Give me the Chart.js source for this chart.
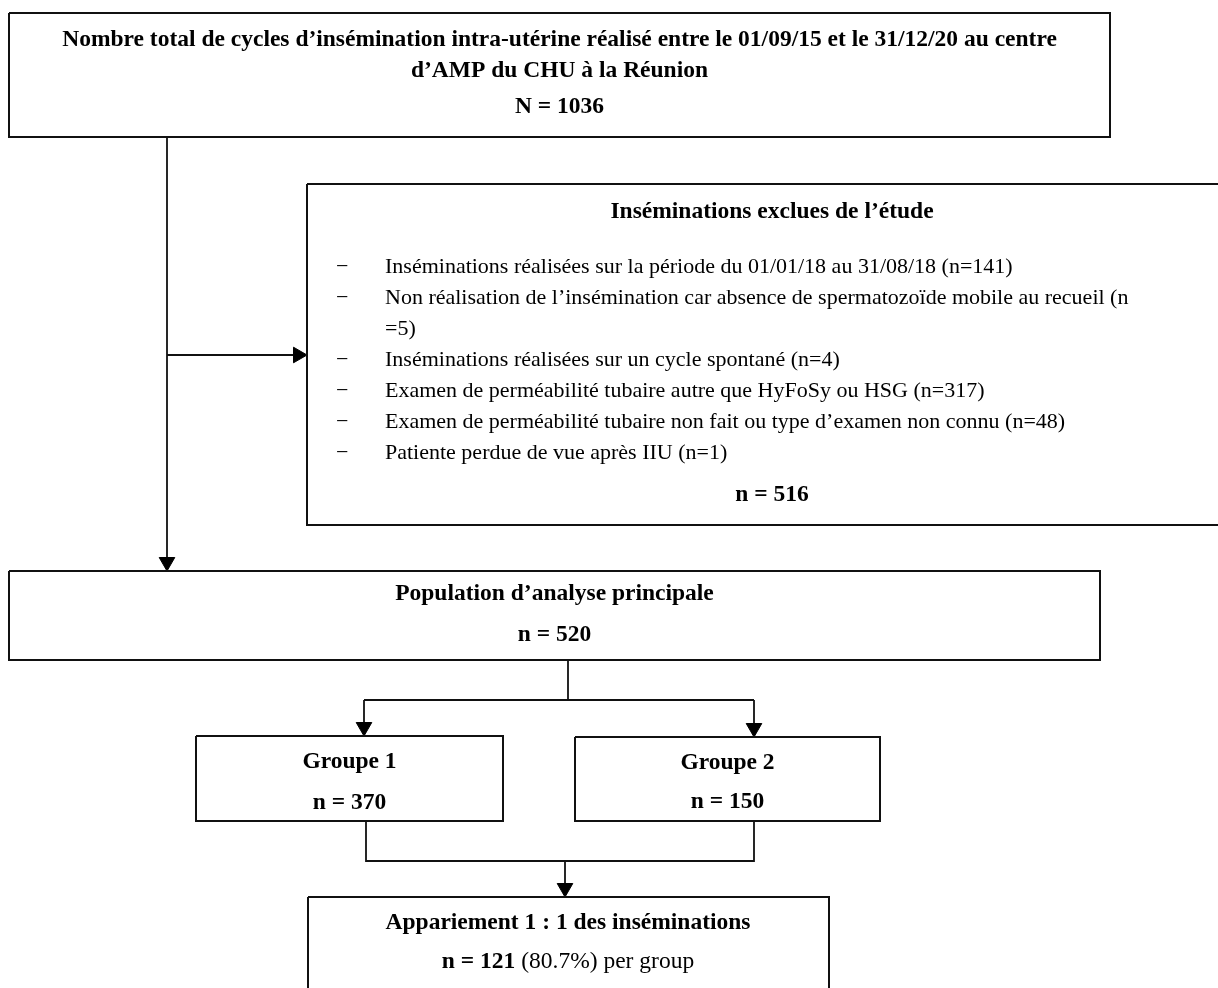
<!DOCTYPE html>
<html>
<head>
<meta charset="utf-8">
<script src="https://cdn.jsdelivr.net/npm/chart.js@4.4.1/dist/chart.umd.min.js"></script>
<style>
  html, body { margin: 0; padding: 0; background: #fff; }
  #flow { display: block; }
</style>
</head>
<body>
<canvas id="flow" width="1218" height="988"></canvas>
<script>
// Flow chart data
const periodStart = '01/09/15';
const periodEnd = '31/12/20';
const totalN = 1036;
const exclusionReasons = [
    'Inséminations réalisées sur la période du 01/01/18 au 31/08/18',
    'Non réalisation de l’insémination car absence de spermatozoïde mobile au recueil',
    'Inséminations réalisées sur un cycle spontané',
    'Examen de perméabilité tubaire autre que HyFoSy ou HSG',
    'Examen de perméabilité tubaire non fait ou type d’examen non connu',
    'Patiente perdue de vue après IIU'
];
const exclusionCounts = [141, 5, 4, 317, 48, 1];
const excludedN = 516;
const analysedN = 520;
const groupLabels = ['Groupe 1', 'Groupe 2'];
const groupN = [370, 150];
const matchedN = 121;
const matchedPct = 80.7;

// Layout (canvas units)
const boxes = {
    total: { x0: 9, x1: 1110, y0: 13, y1: 137 },
    excl: { x0: 307, x1: 1240, y0: 184, y1: 525 },
    pop: { x0: 9, x1: 1100, y0: 571, y1: 660 },
    g1: { x0: 196, x1: 503, y0: 736, y1: 821 },
    g2: { x0: 575, x1: 880, y0: 737, y1: 821 },
    match: { x0: 308, x1: 829, y0: 897, y1: 1010 }
};
const ARROW_R = 9;

// connectors: list of points, arrow = direction of the head at the last point
const connectors = [
    { pts: [[167, 137], [167, 571]], arrow: 'down' },
    { pts: [[167, 355], [307, 355]], arrow: 'right' },
    { pts: [[568, 660], [568, 700]] },
    { pts: [[364, 700], [754, 700]] },
    { pts: [[364, 700], [364, 736]], arrow: 'down' },
    { pts: [[754, 700], [754, 737]], arrow: 'down' },
    { pts: [[366, 821], [366, 861], [754, 861], [754, 821]] },
    { pts: [[565, 861], [565, 897]], arrow: 'down' }
];

function boxDataset(b) {
    return {
        type: 'line',
        data: [
            { x: b.x0, y: b.y0 }, { x: b.x1, y: b.y0 },
            { x: b.x1, y: b.y1 }, { x: b.x0, y: b.y1 }, { x: b.x0, y: b.y0 }
        ],
        borderColor: '#111',
        borderWidth: 2,
        pointRadius: 0,
        fill: false,
        tension: 0
    };
}

function connectorDataset(c) {
    const pts = c.pts.map(p => ({ x: p[0], y: p[1] }));
    const radii = pts.map(() => 0);
    let rotation = 0;
    if (c.arrow) {
        const last = pts[pts.length - 1];
        // move the triangle centre back so its tip touches the target
        if (c.arrow === 'down') { last.y -= ARROW_R; rotation = 180; }
        if (c.arrow === 'right') { last.x -= ARROW_R; rotation = 90; }
        radii[radii.length - 1] = ARROW_R;
    }
    return {
        type: 'line',
        data: pts,
        borderColor: '#111',
        borderWidth: 1.8,
        pointRadius: radii,
        pointStyle: 'triangle',
        rotation: rotation,
        pointBackgroundColor: '#000',
        pointBorderColor: '#000',
        pointBorderWidth: 1,
        fill: false,
        tension: 0
    };
}

const SERIF = '"Liberation Serif", "Times New Roman", serif';
const BOLD_PX = 23.5;
const LIST_PX = 22;

// text items built from the data
const exclusionLines = [];
exclusionReasons.forEach((r, i) => {
    if (i === 1) {
        exclusionLines.push({ dash: true, text: r + ' (n' });
        exclusionLines.push({ dash: false, text: '=' + exclusionCounts[i] + ')' });
    } else {
        exclusionLines.push({ dash: true, text: r + ' (n=' + exclusionCounts[i] + ')' });
    }
});

const centeredTexts = [
    { x: 559.5, y: 40, text: 'Nombre total de cycles d’insémination intra-utérine réalisé entre le ' + periodStart + ' et le ' + periodEnd + ' au centre' },
    { x: 559.5, y: 71, text: 'd’AMP du CHU à la Réunion' },
    { x: 559.5, y: 107, text: 'N = ' + totalN },
    { x: 772, y: 212, text: 'Inséminations exclues de l’étude' },
    { x: 772, y: 495, text: 'n = ' + excludedN },
    { x: 554.5, y: 594, text: 'Population d’analyse principale' },
    { x: 554.5, y: 635, text: 'n = ' + analysedN },
    { x: 349.5, y: 762, text: groupLabels[0] },
    { x: 349.5, y: 803, text: 'n = ' + groupN[0] },
    { x: 727.5, y: 763, text: groupLabels[1] },
    { x: 727.5, y: 802, text: 'n = ' + groupN[1] },
    { x: 568, y: 923, text: 'Appariement 1 : 1 des inséminations' }
];

const textPlugin = {
    id: 'flowText',
    beforeDraw(chart) {
        const c = chart.ctx;
        c.save();
        c.fillStyle = '#fff';
        c.fillRect(0, 0, chart.width, chart.height);
        c.restore();
    },
    afterDatasetsDraw(chart) {
        const c = chart.ctx;
        const xs = chart.scales.x, ys = chart.scales.y;
        c.save();
        c.fillStyle = '#000';
        c.textBaseline = 'middle';

        c.font = 'bold ' + BOLD_PX + 'px ' + SERIF;
        c.textAlign = 'center';
        centeredTexts.forEach(t => {
            c.fillText(t.text, xs.getPixelForValue(t.x), ys.getPixelForValue(t.y));
        });

        // exclusion list
        c.font = LIST_PX + 'px ' + SERIF;
        c.textAlign = 'left';
        exclusionLines.forEach((l, i) => {
            const y = ys.getPixelForValue(267 + i * 31);
            if (l.dash) c.fillText('−', xs.getPixelForValue(336), y);
            c.fillText(l.text, xs.getPixelForValue(385), y);
        });

        // mixed bold / regular line in the matching box
        const boldPart = 'n = ' + matchedN;
        const regPart = ' (' + matchedPct + '%) per group';
        c.font = 'bold ' + BOLD_PX + 'px ' + SERIF;
        const wb = c.measureText(boldPart).width;
        c.font = BOLD_PX + 'px ' + SERIF;
        const wr = c.measureText(regPart).width;
        const x0 = xs.getPixelForValue(568) - (wb + wr) / 2;
        const y = ys.getPixelForValue(962);
        c.font = 'bold ' + BOLD_PX + 'px ' + SERIF;
        c.fillText(boldPart, x0, y);
        c.font = BOLD_PX + 'px ' + SERIF;
        c.fillText(regPart, x0 + wb, y);
        c.restore();
    }
};

const datasets = [];
Object.values(boxes).forEach(b => datasets.push(boxDataset(b)));
connectors.forEach(cn => datasets.push(connectorDataset(cn)));

new Chart(document.getElementById('flow').getContext('2d'), {
    type: 'scatter',
    data: { datasets: datasets },
    options: {
        responsive: false,
        animation: false,
        layout: { padding: 0, autoPadding: false },
        clip: false,
        scales: {
            x: { type: 'linear', min: 0, max: 1218, display: false },
            y: { type: 'linear', min: 0, max: 988, reverse: true, display: false }
        },
        plugins: {
            legend: { display: false },
            tooltip: { enabled: false }
        }
    },
    plugins: [textPlugin]
});
</script>
</body>
</html>
